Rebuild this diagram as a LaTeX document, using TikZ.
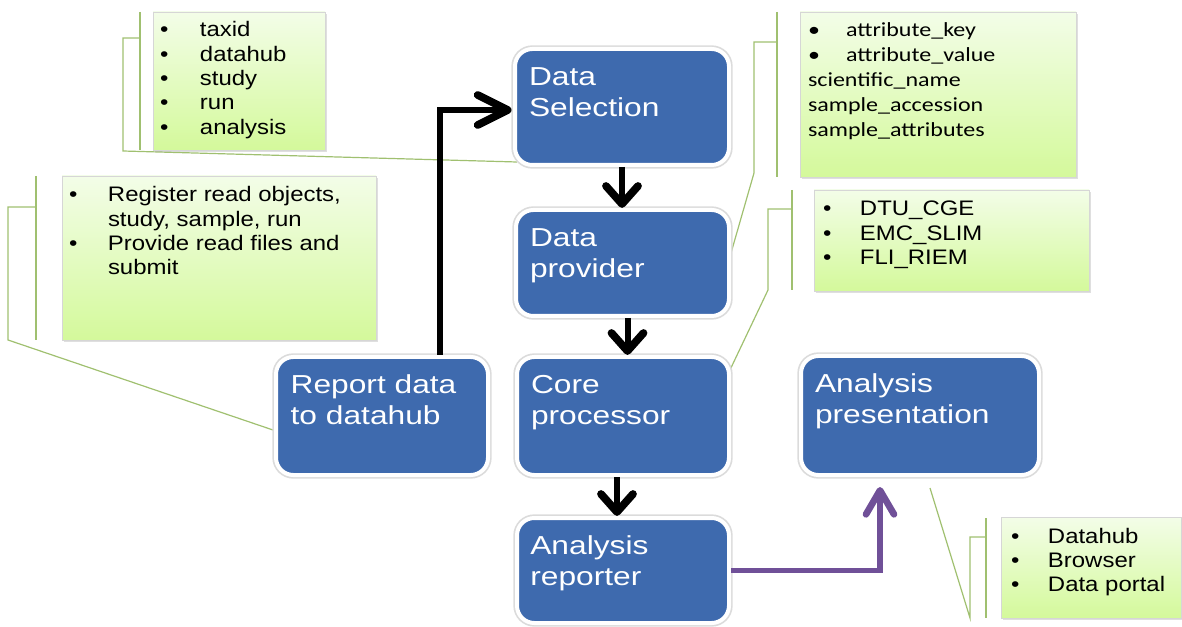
\documentclass[tikz,border=0pt]{standalone}
\usepackage{fontspec}
\setmainfont{Liberation Sans}
\newfontfamily\bfont[FakeStretch=1.22]{Liberation Sans}
\newfontfamily\gfont[FakeStretch=1.14]{Liberation Sans}
\newfontfamily\cfont[FakeStretch=1.2]{Carlito}
\usetikzlibrary{shadows}
\definecolor{boxblue}{RGB}{62,106,174}
\definecolor{gtop}{RGB}{243,253,232}
\definecolor{gbot}{RGB}{212,249,155}
\definecolor{calloutc}{RGB}{160,192,112}
\definecolor{purp}{RGB}{112,80,152}
\newcommand\bxt[5]{\parbox[c][#2][t]{#1}{\leftskip=#3\relax\vspace*{#4}\strut #5}}
\newcommand\bul[1]{\makebox[#1][l]{\textbullet}}
\tikzset{
  bbox/.style={rectangle, rounded corners=13pt, fill=boxblue, draw=white, line width=3pt,
    inner sep=0pt, text=white, font=\bfont\fontsize{19.5}{23.3}\selectfont,
    preaction={draw=black!14, line width=5.5pt}},
  gbox/.style={rectangle, top color=gtop, bottom color=gbot, draw=black!16, line width=0.5pt,
    inner sep=0pt, text=black, font=\gfont\fontsize{15.75}{18.2}\selectfont,
    drop shadow={shadow xshift=1.2pt, shadow yshift=-1.2pt, opacity=0.25}},
  callout/.style={draw=calloutc, line width=0.9pt},
  blk/.style={draw=black, line width=4.5pt},
  blkhead/.style={draw=black, line width=5.8pt, line cap=round, line join=round},
  purarrow/.style={draw=purp, line width=4pt},
  purhead/.style={draw=purp, line width=5pt, line cap=round, line join=round}
}
\begin{document}
\begin{tikzpicture}[x=0.75pt,y=-0.75pt]
\useasboundingbox (0,0) rectangle (1182,627);

% callout leaders and accent bars
\coordinate (c1) at (517,162);
\coordinate (c2) at (273,430);
\coordinate (c3) at (729,260);
\coordinate (c4) at (729,372);
\coordinate (c5) at (930,488);
\draw[callout] (140,12) -- (140,150);
\draw[callout] (140,38) -- (123,38) -- (123,151) -- (c1);
\draw[callout] (36,176) -- (36,340);
\draw[callout] (36,207) -- (8,207) -- (8,340) -- (c2);
\draw[callout] (777,12) -- (777,177);
\draw[callout] (777,42) -- (754,42) -- (754,173) -- (c3);
\draw[callout] (792,190) -- (792,290);
\draw[callout] (792,209) -- (768,209) -- (768,290) -- (c4);
\draw[callout] (986,518) -- (986,618);
\draw[callout] (986,537) -- (970,537) -- (970,618) -- (c5);

% green notes
\node[gbox] (g1) at (239,81) {\bxt{129pt}{103.5pt}{5.25pt}{6pt}{\bul{30pt}taxid\\\bul{30pt}datahub\\\bul{30pt}study\\\bul{30pt}run\\\bul{30pt}analysis}};
\node[gbox] (g2) at (219,258) {\bxt{235.5pt}{123pt}{5.25pt}{6.76pt}{\bul{29.25pt}Register read objects,\\\hspace*{29.25pt}study, sample, run\\\bul{29.25pt}Provide read files and\\\hspace*{29.25pt}submit}};
\node[gbox, font=\cfont\fontsize{15}{18.75}\selectfont] (g3) at (938,94.5) {\bxt{207pt}{123.75pt}{6pt}{4.9pt}{\bul{28.5pt}attribute\_key\\\bul{28.5pt}attribute\_value\\scientific\_name\\sample\_accession\\sample\_attributes}};
\node[gbox] (g4) at (951.5,240.5) {\bxt{206.25pt}{75.75pt}{6.75pt}{6.76pt}{\bul{27.75pt}DTU\_CGE\\\bul{27.75pt}EMC\_SLIM\\\bul{27.75pt}FLI\_RIEM}};
\node[gbox] (g5) at (1091,567.5) {\bxt{135pt}{75.75pt}{7.5pt}{6.76pt}{\bul{27.75pt}Datahub\\\bul{27.75pt}Browser\\\bul{27.75pt}Data portal}};

% blue process boxes
\node[bbox] (sel) at (622,107) {\bxt{160.5pt}{87pt}{10.5pt}{11.2pt}{Data\\Selection}};
\node[bbox] (prov) at (622.5,263) {\bxt{159.75pt}{79.5pt}{10.5pt}{11.2pt}{Data\\provider}};
\node[bbox] (core) at (623,416) {\bxt{159pt}{88.5pt}{10.5pt}{11.2pt}{Core\\processor}};
\node[bbox] (rep) at (623,570.5) {\bxt{159pt}{78.75pt}{10pt}{10.7pt}{Analysis\\reporter}};
\node[bbox] (report) at (382,416) {\bxt{159pt}{88.5pt}{11pt}{11.2pt}{Report data\\to datahub}};
\node[bbox] (pres) at (920,415.5) {\bxt{178.5pt}{89.25pt}{10.5pt}{11.2pt}{Analysis\\presentation}};

% connectors
\coordinate (e1) at ([yshift=3pt]sel.south |- prov.north);
\draw[blk] (sel.south) -- (e1);
\draw[blkhead] ([shift={(-16,-18)}]e1) -- (e1) -- ([shift={(16,-18)}]e1);

\coordinate (s2) at ([xshift=3.75pt]prov.south);
\coordinate (e2) at ([yshift=3pt]s2 |- core.north);
\draw[blk] (s2) -- (e2);
\draw[blkhead] ([shift={(-16,-18)}]e2) -- (e2) -- ([shift={(16,-18)}]e2);

\coordinate (s3) at ([xshift=-4.5pt]core.south);
\coordinate (e3) at ([yshift=3pt]s3 |- rep.north);
\draw[blk] (s3) -- (e3);
\draw[blkhead] ([shift={(-16,-18)}]e3) -- (e3) -- ([shift={(16,-18)}]e3);

\coordinate (s4) at ([xshift=43.5pt]report.north);
\coordinate (e4) at ([xshift=-4pt,yshift=-2.25pt]sel.west);
\draw[blk] (s4) |- (e4);
\draw[blkhead] ([shift={(-30,-15)}]e4) -- (e4) -- ([shift={(-30,15)}]e4);

\coordinate (e5) at ([xshift=-30pt,yshift=-10pt]pres.south);
\draw[purarrow] (rep.east) -| (e5);
\draw[purhead] ([shift={(-14,24)}]e5) -- (e5) -- ([shift={(14,24)}]e5);
\end{tikzpicture}
\end{document}
